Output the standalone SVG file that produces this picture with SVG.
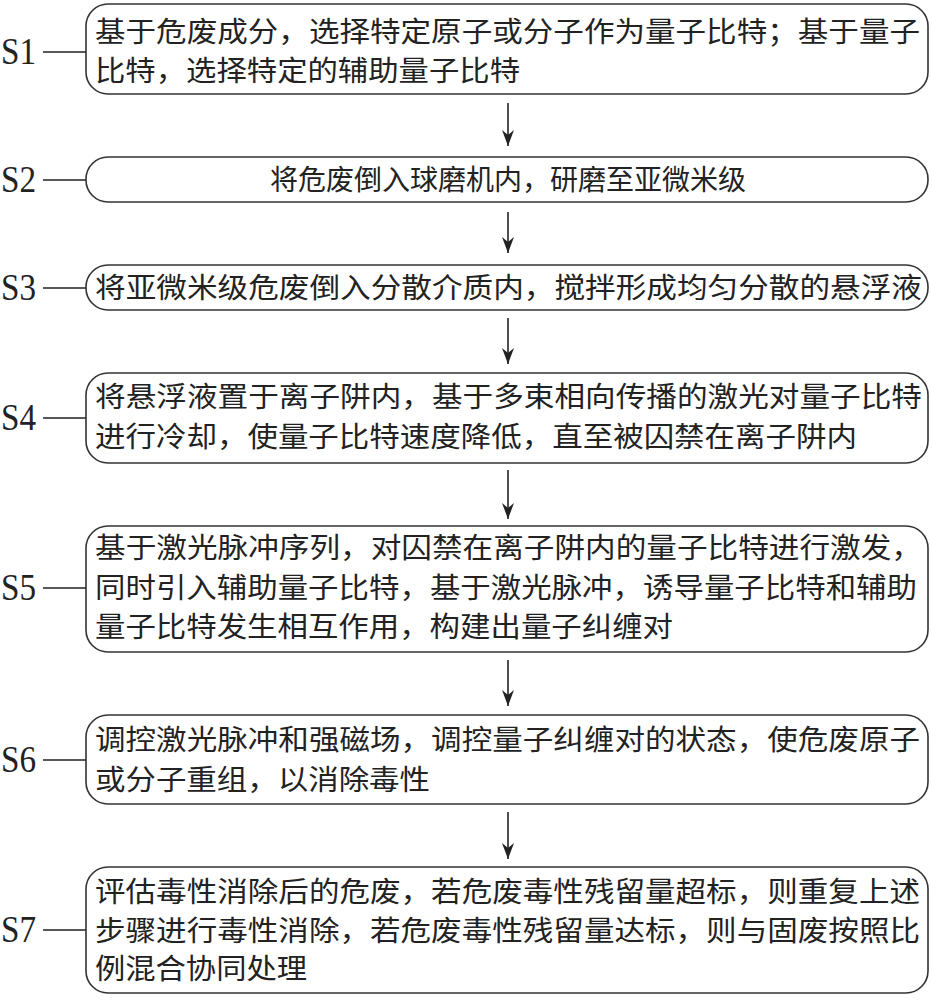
<svg xmlns="http://www.w3.org/2000/svg" width="932" height="1000" viewBox="0 0 932 1000">
<style>
.b{fill:#fff;stroke:#333;stroke-width:1.6}
.t{font-family:"Noto Sans CJK SC","Noto Sans",sans-serif;font-size:28px;fill:#222}
.l{font-family:"Liberation Serif",serif;font-size:38px;fill:#222}
.c{stroke:#222;stroke-width:1.6;fill:none}
</style>
<defs><marker id="a" markerWidth="16" markerHeight="12" refX="16" refY="6" orient="auto" markerUnits="userSpaceOnUse" viewBox="0 0 16 12"><path d="M0,0 L16,6 L0,12 L5,6 Z" fill="#222"/></marker></defs>
<rect width="932" height="1000" fill="#fff"/>
<g id="connectors">
<path class="c" d="M43,52H86M43,180H86M43,288H86M43,418H86M43,588H86M43,760H86M43,930H86"/>
<path class="c" marker-end="url(#a)" d="M508,103V146"/>
<path class="c" marker-end="url(#a)" d="M508,212V253"/>
<path class="c" marker-end="url(#a)" d="M508,318V364"/>
<path class="c" marker-end="url(#a)" d="M508,470V519"/>
<path class="c" marker-end="url(#a)" d="M508,660V706"/>
<path class="c" marker-end="url(#a)" d="M508,812V859"/>
</g>
<g id="s1"><rect class="b" x="86" y="4" width="842" height="90" rx="22"/><text class="l" x="1" y="64" textLength="35" lengthAdjust="spacingAndGlyphs">S1</text>
<text class="t" x="95" y="42" textLength="825" lengthAdjust="spacingAndGlyphs">基于危废成分，选择特定原子或分子作为量子比特；基于量子</text>
<text class="t" x="95" y="81" textLength="425" lengthAdjust="spacingAndGlyphs">比特，选择特定的辅助量子比特</text></g>
<g id="s2"><rect class="b" x="86" y="157" width="842" height="45" rx="22"/><text class="l" x="1" y="192" textLength="35" lengthAdjust="spacingAndGlyphs">S2</text>
<text class="t" x="508" y="190" text-anchor="middle">将危废倒入球磨机内，研磨至亚微米级</text></g>
<g id="s3"><rect class="b" x="86" y="265" width="842" height="45" rx="22"/><text class="l" x="1" y="300" textLength="35" lengthAdjust="spacingAndGlyphs">S3</text>
<text class="t" x="95" y="298" textLength="827" lengthAdjust="spacingAndGlyphs">将亚微米级危废倒入分散介质内，搅拌形成均匀分散的悬浮液</text></g>
<g id="s4"><rect class="b" x="86" y="373" width="842" height="90" rx="22"/><text class="l" x="1" y="430" textLength="35" lengthAdjust="spacingAndGlyphs">S4</text>
<text class="t" x="95" y="407" textLength="827" lengthAdjust="spacingAndGlyphs">将悬浮液置于离子阱内，基于多束相向传播的激光对量子比特</text>
<text class="t" x="95" y="447" textLength="762" lengthAdjust="spacingAndGlyphs">进行冷却，使量子比特速度降低，直至被囚禁在离子阱内</text></g>
<g id="s5"><rect class="b" x="86" y="526" width="842" height="126" rx="22"/><text class="l" x="1" y="600" textLength="35" lengthAdjust="spacingAndGlyphs">S5</text>
<text class="t" x="95" y="558" textLength="827" lengthAdjust="spacingAndGlyphs">基于激光脉冲序列，对囚禁在离子阱内的量子比特进行激发，</text>
<text class="t" x="95" y="598" textLength="822" lengthAdjust="spacingAndGlyphs">同时引入辅助量子比特，基于激光脉冲，诱导量子比特和辅助</text>
<text class="t" x="95" y="637" textLength="578" lengthAdjust="spacingAndGlyphs">量子比特发生相互作用，构建出量子纠缠对</text></g>
<g id="s6"><rect class="b" x="86" y="715" width="842" height="89" rx="22"/><text class="l" x="1" y="772" textLength="35" lengthAdjust="spacingAndGlyphs">S6</text>
<text class="t" x="95" y="750" textLength="825" lengthAdjust="spacingAndGlyphs">调控激光脉冲和强磁场，调控量子纠缠对的状态，使危废原子</text>
<text class="t" x="95" y="790" textLength="335" lengthAdjust="spacingAndGlyphs">或分子重组，以消除毒性</text></g>
<g id="s7"><rect class="b" x="86" y="867" width="842" height="126" rx="22"/><text class="l" x="1" y="942" textLength="35" lengthAdjust="spacingAndGlyphs">S7</text>
<text class="t" x="95" y="902" textLength="825" lengthAdjust="spacingAndGlyphs">评估毒性消除后的危废，若危废毒性残留量超标，则重复上述</text>
<text class="t" x="95" y="941" textLength="825" lengthAdjust="spacingAndGlyphs">步骤进行毒性消除，若危废毒性残留量达标，则与固废按照比</text>
<text class="t" x="95" y="979" textLength="212" lengthAdjust="spacingAndGlyphs">例混合协同处理</text></g>
</svg>
